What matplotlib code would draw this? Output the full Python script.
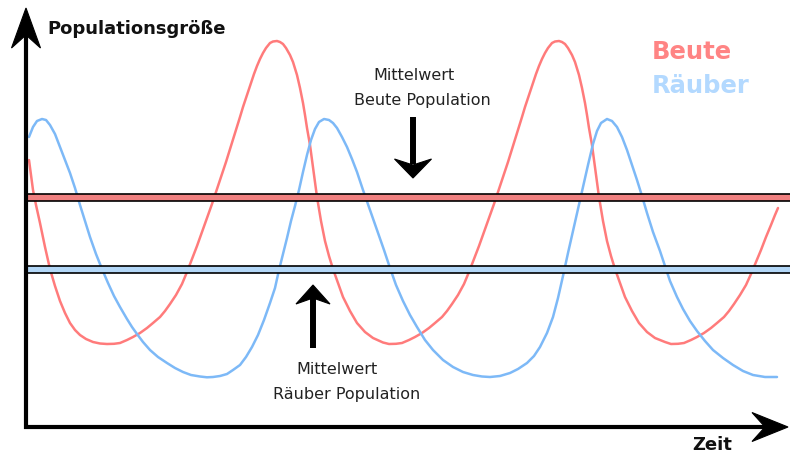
import numpy as np
import matplotlib
matplotlib.use("Agg")
import matplotlib.pyplot as plt
from matplotlib.patches import Polygon

# prey (Beute) curve: time, population
beute_t = [3, 5, 7, 10, 14, 19, 24, 29, 34, 39, 44, 49, 54, 60, 67, 74, 81, 88, 94, 101,
           107, 114, 121, 127, 134, 139, 144, 150, 156, 161, 166, 171, 176, 181, 186, 190,
           195, 200, 205, 210, 214, 217, 221, 224, 228, 231, 234, 237, 240, 244, 247, 251,
           254, 257, 260, 264, 267, 271, 274, 277, 279, 281, 284, 287, 291, 295, 299, 303,
           307, 312, 317, 324, 331, 339, 347, 357, 363, 370, 376, 383, 389, 396, 403, 409,
           416, 421, 426, 432, 438, 443, 448, 453, 458, 463, 468, 472, 477, 482, 487, 492,
           496, 499, 503, 506, 510, 513, 516, 519, 522, 526, 529, 533, 536, 539, 542, 546,
           549, 553, 556, 559, 561, 563, 566, 569, 573, 577, 581, 585, 589, 594, 599, 606,
           613, 621, 629, 639, 645, 652, 658, 665, 671, 678, 685, 691, 698, 703, 708, 714,
           720, 725, 730, 735, 740, 745, 749, 752]
beute_n = [267, 252, 237, 222, 204, 180, 158, 141, 126, 114, 104, 97, 92, 88, 85, 83.5, 83,
           83.2, 84, 87, 90, 94, 99, 104, 110, 116, 123, 132, 143, 155, 168, 181, 195, 209,
           223, 235, 250, 265, 281, 297, 310, 320, 332, 341, 353, 361, 368, 374, 379, 384,
           385.5, 386, 385, 383, 379, 372, 365, 352, 339, 324, 312, 299, 282, 260, 230, 206,
           186, 171, 158, 144, 130, 116, 104, 95, 89, 84.5, 83, 83.2, 84, 87, 90, 94, 99,
           104, 110, 116, 123, 132, 143, 155, 168, 181, 195, 209, 223, 235, 250, 265, 281,
           297, 310, 320, 332, 341, 353, 361, 368, 374, 379, 384, 385.5, 386, 385, 383, 379,
           372, 365, 352, 339, 324, 312, 299, 282, 260, 230, 206, 186, 171, 158, 144, 130,
           116, 104, 95, 89, 85, 83, 83.2, 84, 87, 90, 94, 99, 104, 110, 116, 123, 132, 142,
           153, 165, 177, 190, 202, 212, 219]

# predator (Räuber) curve
raeuber_t = [3, 7, 11, 16, 20, 24, 29, 34, 39, 44, 49, 54, 59, 64, 70, 76, 82, 88, 94, 101,
             106, 111, 117, 124, 132, 141, 149, 157, 165, 174, 181, 187, 194, 201, 207, 214,
             220, 226, 232, 238, 244, 249, 253, 257, 261, 265, 269, 273, 277, 281, 285, 289,
             293, 298, 303, 307, 311, 316, 321, 326, 331, 337, 344, 351, 358, 364, 370, 377,
             384, 391, 399, 407, 417, 427, 437, 447, 456, 464, 474, 484, 492, 501, 508, 514,
             521, 527, 532, 537, 542, 547, 552, 557, 562, 567, 571, 575, 581, 586, 591, 596,
             601, 606, 611, 616, 621, 627, 634, 639, 644, 651, 657, 664, 671, 679, 687, 697,
             707, 717, 727, 739, 751]
raeuber_n = [290, 300, 306, 308, 307, 302, 293, 280, 267, 254, 239, 222, 206, 190, 173, 158,
             144, 131, 120, 108, 100, 93, 85, 77, 70, 64, 59, 55, 52, 50.5, 49.7, 50, 51, 53,
             57, 62, 70, 80, 92, 107, 124, 139, 157, 173, 189, 206, 221, 237, 255, 272, 287,
             298, 305, 308, 307, 304, 299, 290, 280, 268, 255, 237, 217, 197, 177, 159, 142,
             126, 112, 100, 87, 77, 67, 60, 55, 52, 50.5, 50, 51, 54, 58, 64, 71, 80, 94, 110,
             129, 151, 174, 196, 218, 240, 262, 283, 296, 304, 308, 306, 300, 290, 277, 262,
             247, 231, 214, 195, 176, 161, 146, 130, 118, 106, 96, 86, 77, 69, 62, 56, 52, 50,
             50]

# mean values of both populations
mittel_beute = 229.5
mittel_raeuber = 157.5

red_line = "#ff7b7b"
blue_line = "#7db9f7"

fig = plt.figure(figsize=(7.9, 4.58), dpi=100)
ax = fig.add_axes([0, 0, 1, 1])
ax.set_xlim(-26, 764)
ax.set_ylim(-31, 427)
ax.axis("off")

ax.plot(beute_t, beute_n, color=red_line, lw=1.8, solid_capstyle="round",
        solid_joinstyle="round", zorder=2)
ax.plot(raeuber_t, raeuber_n, color=blue_line, lw=1.8, solid_capstyle="round",
        solid_joinstyle="round", zorder=2)

# mean bands
half = 3.7
for m, fc in [(mittel_beute, "#f08080"), (mittel_raeuber, "#b3d7f7")]:
    ax.fill_between([0, 800], m - half, m + half, facecolor=fc, edgecolor="black",
                    lw=1.2, zorder=3)


def arrow_head(tip, direction, length, width, notch):
    tx, ty = tip
    dx, dy = direction
    px, py = -dy, dx
    bx, by = tx - dx * length, ty - dy * length
    nx, ny = tx - dx * (length - notch), ty - dy * (length - notch)
    pts = [(tx, ty), (bx + px * width / 2, by + py * width / 2), (nx, ny),
           (bx - px * width / 2, by - py * width / 2)]
    ax.add_patch(Polygon(pts, closed=True, facecolor="black", edgecolor="black",
                         lw=0.8, zorder=5))


# axes with arrows
ax.plot([0, 0], [-2, 395], color="black", lw=3.0, zorder=4, solid_capstyle="butt")
ax.plot([-2, 745], [0, 0], color="black", lw=3.0, zorder=4, solid_capstyle="butt")
arrow_head((0, 419), (0, 1), 40, 29, 13)
arrow_head((762, 0), (1, 0), 36, 29, 13)

# mean arrows
ax.plot([387, 387], [310, 263], color="black", lw=4.3, zorder=4, solid_capstyle="butt")
arrow_head((387, 249), (0, -1), 19, 37, 6)
ax.plot([287, 287], [79, 135], color="black", lw=4.3, zorder=4, solid_capstyle="butt")
arrow_head((287, 142), (0, 1), 19, 34, 6)

ax.text(21, 398, "Populationsgröße", fontsize=13, fontweight="bold",
        ha="left", va="center", color="#111111")
ax.text(686, -18, "Zeit", fontsize=13, fontweight="bold",
        ha="center", va="center", color="#111111")

ax.text(626, 375, "Beute", fontsize=17.5, fontweight="bold",
        ha="left", va="center", color="#ff8484")
ax.text(626, 341, "Räuber", fontsize=17.5, fontweight="bold",
        ha="left", va="center", color="#b3d9ff")

ax.text(388, 352, "Mittelwert", fontsize=11.5, ha="center", va="center", color="#222222")
ax.text(396, 327, "Beute Population", fontsize=11.5, ha="center", va="center",
        color="#222222")
ax.text(311, 57, "Mittelwert", fontsize=11.5, ha="center", va="center", color="#222222")
ax.text(321, 33, "Räuber Population", fontsize=11.5, ha="center", va="center",
        color="#222222")

fig.savefig("out.png", dpi=100)
